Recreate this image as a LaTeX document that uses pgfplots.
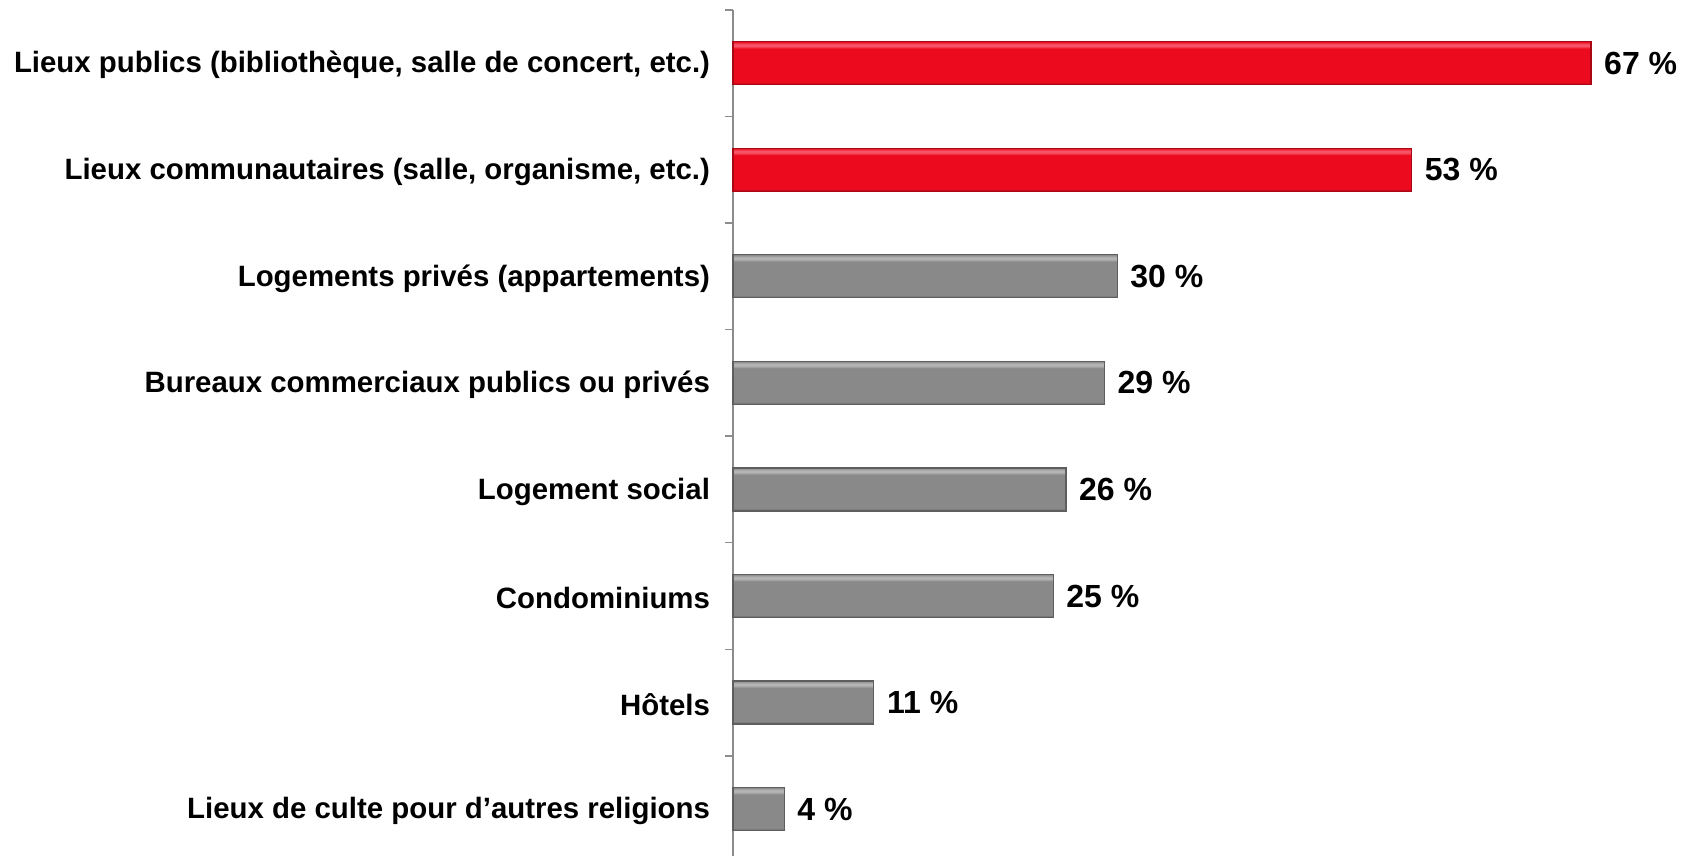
\documentclass[border=0pt]{standalone}
\usepackage{pgfplots}
\pgfplotsset{compat=1.18}
\usepackage{fontspec}
\setmainfont{Liberation Sans}
\definecolor{redmain}{HTML}{EC0A1E}
\definecolor{redlight}{HTML}{F55566}
\definecolor{reddark}{HTML}{A80814}
\definecolor{graymain}{HTML}{898989}
\definecolor{graylight}{HTML}{B4B4B4}
\definecolor{graydark}{HTML}{5E5E5E}
\definecolor{axisgray}{HTML}{8C8C8C}
\pgfdeclareverticalshading{redbar}{100bp}{color(0bp)=(reddark); color(25bp)=(reddark); color(28bp)=(redmain); color(67bp)=(redmain); color(70bp)=(redlight); color(72bp)=(redlight); color(75bp)=(redmain); color(100bp)=(redmain)}
\pgfdeclareverticalshading{graybar}{100bp}{color(0bp)=(graydark); color(25bp)=(graydark); color(28bp)=(graymain); color(67bp)=(graymain); color(70bp)=(graylight); color(72bp)=(graylight); color(75bp)=(graymain); color(100bp)=(graymain)}
\pgfplotsset{
  redb/.style={shading=redbar, draw=reddark, line width=0.6bp},
  grayb/.style={shading=graybar, draw=graydark, line width=0.6bp},
}
\begin{document}
\begin{tikzpicture}
\begin{axis}[
  name=ax,
  scale only axis,
  width=481.5bp, height=423bp,
  xmin=0, xmax=75.2,
  ymin=-0.44, ymax=7.5,
  axis x line=none,
  axis y line*=left,
  axis line style={draw=axisgray, line width=0.7bp},
  xtick=\empty,
  ytick={0,1,2,3,4,5,6,7},
  yticklabels={Lieux de culte pour d’autres religions, Hôtels, Condominiums, Logement social, Bureaux commerciaux publics ou privés, Logements privés (appartements), Lieux communautaires (salle{,} organisme{,} etc.), Lieux publics (bibliothèque{,} salle de concert{,} etc.)},
  yticklabel style={font=\fontsize{14.7bp}{17bp}\selectfont\bfseries, xshift=-8bp, yshift=-1bp},
  minor ytick={0.5,1.5,2.5,3.5,4.5,5.5,6.5,7.5},
  major tick length=0pt,
  minor tick length=4bp,
  tick align=outside,
  minor tick style={draw=axisgray, line width=0.7bp},
  xbar, bar width=21.5bp, bar shift=0pt,
  nodes near coords={\pgfmathprintnumber{\pgfplotspointmeta}~\%},
  nodes near coords style={font=\fontsize{16bp}{19bp}\selectfont\bfseries, anchor=west, xshift=3bp, text=black},
  /pgf/number format/assume math mode=true,
  point meta=x,
  clip=false,
]
\addplot[redb] coordinates {(67,7)};
\addplot[redb] coordinates {(53,6)};
\addplot[grayb] coordinates {(30,5)};
\addplot[grayb] coordinates {(29,4)};
\addplot[grayb] coordinates {(26,3)};
\addplot[grayb] coordinates {(25,2)};
\addplot[grayb] coordinates {(11,1)};
\addplot[grayb] coordinates {(4,0)};
\end{axis}
\pgfresetboundingbox
\path[use as bounding box] ([xshift=-366.5bp]ax.south west) rectangle ([yshift=5bp]ax.north east);
\end{tikzpicture}
\end{document}
